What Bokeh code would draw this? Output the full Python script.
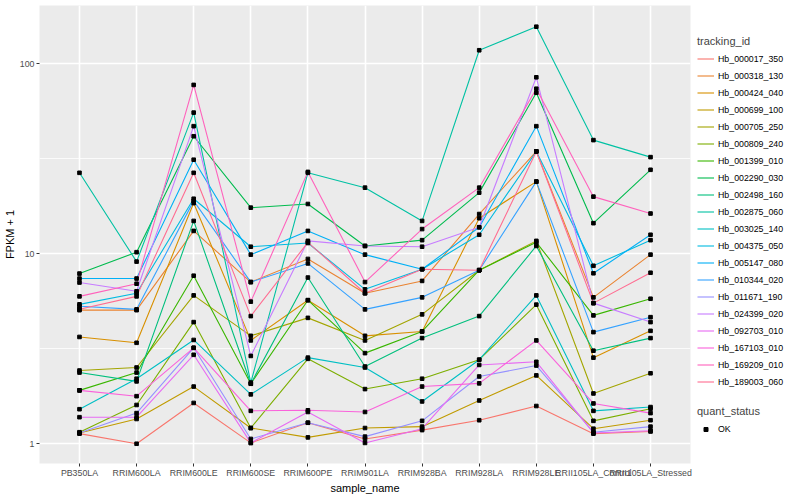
from bokeh.plotting import figure
from bokeh.layouts import row
from bokeh.models import FactorRange, FixedTicker, Legend, LegendItem, ColumnDataSource
from bokeh.embed import file_html
from bokeh.resources import INLINE

samples = ["PB350LA", "RRIM600LA", "RRIM600LE", "RRIM600SE", "RRIM600PE", "RRIM901LA",
           "RRIM928BA", "RRIM928LA", "RRIM928LE", "RRII105LA_Control", "RRII105LA_Stressed"]

tracking_ids = ["Hb_000017_350", "Hb_000318_130", "Hb_000424_040", "Hb_000699_100",
                "Hb_000705_250", "Hb_000809_240", "Hb_001399_010", "Hb_002290_030",
                "Hb_002498_160", "Hb_002875_060", "Hb_003025_140", "Hb_004375_050",
                "Hb_005147_080", "Hb_010344_020", "Hb_011671_190", "Hb_024399_020",
                "Hb_092703_010", "Hb_167103_010", "Hb_169209_010", "Hb_189003_060"]

colors = ["#F8766D", "#EA8331", "#D89000", "#C09B00", "#A3A500", "#7CAE00", "#39B600",
          "#00BB4E", "#00BF7D", "#00C1A3", "#00BFC4", "#00BAE0", "#00B0F6", "#35A2FF",
          "#9590FF", "#C77CFF", "#E76BF3", "#FA62DB", "#FF62BC", "#FF6C91"]

# FPKM + 1 per sample (order of `samples`)
hb_000017_350 = [1.13, 1.00, 1.64, 1.01, 1.29, 1.06, 1.18, 1.33, 1.58, 1.13, 1.16]
hb_000318_130 = [5.05, 5.05, 13.2, 7.1, 9.4, 6.2, 7.2, 16.2, 34.6, 5.9, 9.9]
hb_000424_040 = [3.65, 3.4, 18.5, 3.5, 5.7, 3.7, 3.9, 15.4, 24.0, 2.84, 3.93]
hb_000699_100 = [1.14, 1.35, 2.0, 1.21, 1.08, 1.21, 1.23, 1.69, 2.29, 1.2, 1.33]
hb_000705_250 = [2.43, 2.52, 6.04, 3.7, 4.6, 3.5, 4.8, 8.2, 11.7, 1.84, 2.35]
hb_000809_240 = [1.15, 1.6, 4.37, 1.21, 2.8, 1.94, 2.2, 2.77, 5.4, 1.32, 1.53]
hb_001399_010 = [1.91, 2.37, 7.67, 2.07, 5.7, 3.0, 3.9, 8.2, 11.5, 4.74, 5.8]
hb_002290_030 = [7.87, 10.2, 41.6, 17.5, 18.3, 11.0, 11.8, 21.0, 70.5, 14.5, 27.7]
hb_002498_160 = [2.37, 2.13, 14.9, 2.07, 7.5, 2.55, 3.6, 4.7, 11.0, 3.09, 3.6]
hb_002875_060 = [26.7, 9.1, 55.4, 2.1, 26.7, 22.3, 14.9, 118.0, 157.0, 39.7, 32.3]
hb_003025_140 = [1.52, 2.2, 3.52, 1.82, 2.84, 2.52, 1.67, 2.77, 6.04, 1.49, 1.56]
hb_004375_050 = [5.42, 6.2, 19.5, 10.9, 11.4, 6.5, 8.3, 12.6, 34.6, 8.65, 11.8]
hb_005147_080 = [7.41, 7.41, 31.3, 9.9, 13.2, 9.9, 8.3, 13.8, 47.0, 7.9, 12.6]
hb_010344_020 = [5.3, 5.1, 19.0, 7.1, 8.9, 5.1, 5.9, 8.2, 24.0, 3.87, 4.64]
hb_011671_190 = [1.14, 1.45, 3.2, 1.06, 1.29, 1.09, 1.32, 2.26, 2.58, 1.15, 1.23]
hb_024399_020 = [7.06, 6.35, 47.0, 2.9, 11.7, 11.0, 10.9, 13.8, 85.0, 5.5, 4.37]
hb_092703_010 = [1.38, 1.38, 2.94, 1.01, 1.47, 1.01, 1.2, 2.6, 2.7, 1.14, 1.17]
hb_167103_010 = [1.91, 1.78, 3.2, 1.49, 1.5, 1.47, 2.0, 2.08, 3.5, 1.63, 1.45]
hb_169209_010 = [5.97, 6.96, 77.5, 5.6, 27.0, 7.1, 13.5, 22.3, 74.0, 20.0, 16.3]
hb_189003_060 = [5.11, 5.97, 26.7, 4.7, 11.5, 6.2, 8.3, 8.2, 34.6, 5.5, 7.95]

series = [hb_000017_350, hb_000318_130, hb_000424_040, hb_000699_100, hb_000705_250,
          hb_000809_240, hb_001399_010, hb_002290_030, hb_002498_160, hb_002875_060,
          hb_003025_140, hb_004375_050, hb_005147_080, hb_010344_020, hb_011671_190,
          hb_024399_020, hb_092703_010, hb_167103_010, hb_169209_010, hb_189003_060]

FONT = "Liberation Sans"
H = 496

p = figure(x_range=FactorRange(factors=samples, range_padding=0.2, range_padding_units="absolute"),
           y_axis_type="log", y_range=(0.787, 203),
           width=692, height=H,
           min_border_left=36, min_border_right=2, min_border_top=5, min_border_bottom=0,
           output_backend="svg", toolbar_location=None,
           background_fill_color="#EBEBEB", border_fill_color="white", outline_line_color=None,
           x_axis_label="sample_name", y_axis_label="FPKM + 1")

for col, vals in zip(colors, series):
    src = ColumnDataSource(dict(x=samples, y=vals))
    p.line("x", "y", source=src, line_color=col, line_width=1.1)

all_x = [s for vals in series for s in samples]
all_y = [v for vals in series for v in vals]
p.scatter(all_x, all_y, marker="square", size=3.6, color="black")

p.xgrid.grid_line_color = "white"
p.xgrid.grid_line_width = 1.6
p.ygrid.grid_line_color = "white"
p.ygrid.grid_line_width = 1.6
p.ygrid.minor_grid_line_color = "white"
p.ygrid.minor_grid_line_width = 0.8

p.yaxis.ticker = FixedTicker(ticks=[1, 10, 100], minor_ticks=[3.1623, 31.623])
p.yaxis.major_label_overrides = {1: "1", 10: "10", 100: "100"}

for ax in [p.xaxis[0], p.yaxis[0]]:
    ax.axis_line_color = None
    ax.major_tick_line_color = "#333333"
    ax.major_tick_out = 3
    ax.major_tick_in = 0
    ax.minor_tick_line_color = None
    ax.major_label_text_color = "#4D4D4D"
    ax.major_label_text_font = FONT
    ax.major_label_text_font_size = "8.8px"
    ax.major_label_standoff = 1
    ax.axis_label_text_font = FONT
    ax.axis_label_text_font_size = "11px"
    ax.axis_label_text_font_style = "normal"
    ax.axis_label_text_color = "black"
    ax.axis_label_standoff = 1

# legend panel: same series, drawn off-screen, only used as legend keys
lp = figure(width=108, height=H,
            x_range=FactorRange(factors=samples), y_range=(1000, 2000),
            min_border=0, x_axis_location=None, y_axis_location=None,
            output_backend="svg", toolbar_location=None,
            background_fill_color="white", border_fill_color="white", outline_line_color=None)
lp.grid.visible = False

items = []
for tid, col, vals in zip(tracking_ids, colors, series):
    r = lp.line("x", "y", source=ColumnDataSource(dict(x=samples, y=vals)), line_color=col, line_width=1.1)
    items.append(LegendItem(label=tid, renderers=[r]))
pk = lp.scatter(all_x, all_y, marker="square", size=3.6, color="black")

common = dict(orientation="vertical", spacing=0, padding=4, margin=0,
              glyph_width=17, label_height=17, label_standoff=4,
              label_text_font=FONT, label_text_font_size="8.8px", label_text_color="black",
              title_text_font=FONT, title_text_font_size="11px", title_text_font_style="normal",
              title_standoff=3, border_line_color=None, background_fill_alpha=0)

leg = Legend(items=items, title="tracking_id", location=(5, 73), glyph_height=17, **common)
lp.add_layout(leg)
leg2 = Legend(items=[LegendItem(label="OK", renderers=[pk])], title="quant_status",
              location=(5, 26), glyph_height=10, **common)
lp.add_layout(leg2)

layout = row(p, lp)
open("out.html", "w").write(file_html(layout, INLINE))
